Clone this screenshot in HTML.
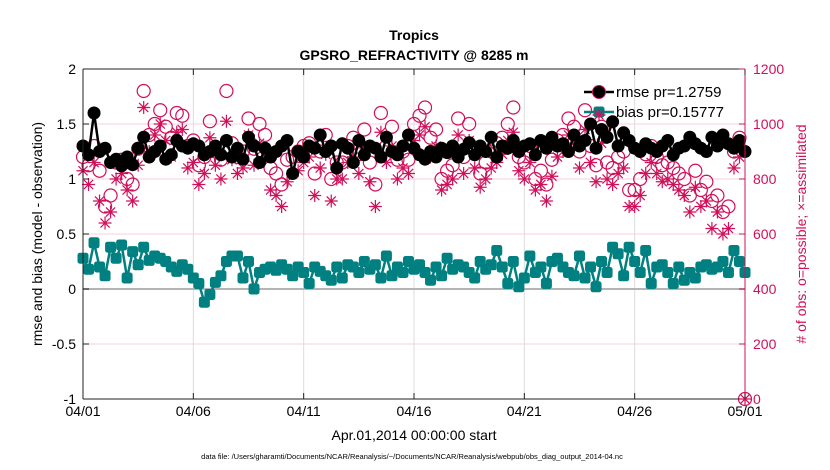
<!DOCTYPE html>
<html><head><meta charset="utf-8">
<style>
body{margin:0;background:#fff;font-family:"Liberation Sans",sans-serif;}
svg{display:block}
text{font-family:"Liberation Sans",sans-serif}
</style></head>
<body>
<svg id="chart" width="830" height="470">
<text x="414" y="40" text-anchor="middle" font-size="14" font-weight="bold">Tropics</text>
<text x="414" y="60" text-anchor="middle" font-size="14" font-weight="bold">GPSRO_REFRACTIVITY @ 8285 m</text>
<text transform="translate(42,234) rotate(-90)" text-anchor="middle" font-size="14">rmse and bias (model - observation)</text>
<text transform="translate(806,234) rotate(-90)" text-anchor="middle" font-size="14" fill="#d0105a"># of obs: o=possible; ×=assimilated</text>
<text x="414" y="440" text-anchor="middle" font-size="14">Apr.01,2014 00:00:00 start</text>
<text x="412" y="459" text-anchor="middle" font-size="7.5">data file: /Users/gharamti/Documents/NCAR/Reanalysis/~/Documents/NCAR/Reanalysis/webpub/obs_diag_output_2014-04.nc</text>
<g id="grid"></g><g id="marks"></g><g id="axes"></g><g id="legend"></g>
</svg>
<script>
const xTicks=["04/01","04/06","04/11","04/16","04/21","04/26","05/01"];
const yTicks=[-1,-0.5,0,0.5,1,1.5,2];
const y2Ticks=[0,200,400,600,800,1000,1200];
const rmse=[1.30,1.22,1.60,1.25,1.28,1.15,1.18,1.12,1.20,1.13,1.28,1.38,1.20,1.25,1.30,1.18,1.22,1.35,1.30,1.28,
1.32,1.30,1.22,1.25,1.30,1.22,1.35,1.20,1.28,1.18,1.38,1.30,1.15,1.28,1.20,1.25,1.30,1.35,1.05,1.25,
1.20,1.30,1.28,1.40,1.25,1.30,1.10,1.32,1.28,1.15,1.35,1.22,1.30,1.28,1.20,1.38,1.25,1.22,1.30,1.40,
1.28,1.22,1.18,1.25,1.20,1.28,1.24,1.30,1.20,1.27,1.33,1.22,1.30,1.25,1.38,1.20,1.30,1.28,1.35,1.25,
1.30,1.32,1.22,1.35,1.28,1.38,1.30,1.32,1.25,1.40,1.30,1.35,1.50,1.28,1.45,1.38,1.52,1.30,1.42,1.35,
1.28,1.25,1.32,1.28,1.25,1.30,1.35,1.22,1.28,1.30,1.38,1.32,1.28,1.25,1.38,1.30,1.40,1.32,1.28,1.35,1.25];
const bias=[0.28,0.18,0.42,0.20,0.12,0.38,0.28,0.40,0.10,0.34,0.22,0.38,0.26,0.30,0.28,0.25,0.20,0.16,0.22,0.18,
0.10,0.05,-0.12,-0.05,0.06,0.12,0.25,0.30,0.30,0.10,0.25,0.00,0.15,0.18,0.20,0.17,0.22,0.18,0.12,0.20,
0.15,0.05,0.20,0.16,0.12,0.08,0.20,0.10,0.22,0.20,0.15,0.25,0.18,0.22,0.10,0.30,0.12,0.20,0.15,0.25,
0.18,0.22,0.15,0.08,0.20,0.12,0.28,0.18,0.22,0.20,0.15,0.10,0.25,0.18,0.22,0.35,0.20,0.05,0.25,0.02,
0.10,0.30,0.15,0.20,0.05,0.25,0.28,0.20,0.15,0.12,0.30,0.10,0.20,0.02,0.25,0.15,0.38,0.32,0.12,0.38,
0.25,0.15,0.35,0.05,0.20,0.22,0.15,0.05,0.20,0.08,0.15,0.10,0.20,0.22,0.18,0.20,0.25,0.15,0.35,0.25,0.15];
const possible=[880,850,920,830,700,740,860,870,800,780,910,1120,960,1000,1050,990,950,1040,1030,920,
940,850,880,1010,900,870,1120,930,880,900,1020,910,1000,960,840,820,780,870,880,900,
920,930,820,900,960,800,860,860,920,950,890,980,860,780,1040,920,990,870,900,870,
1000,1030,1060,950,980,800,830,850,1020,880,1000,900,820,860,900,930,950,1000,1060,880,
860,920,800,830,780,870,940,960,1020,990,900,1050,920,850,990,860,840,880,900,760,
760,800,890,920,880,850,860,840,820,800,740,830,760,790,720,740,680,700,900,950,0];
const assimilated=[830,780,860,720,640,680,800,820,760,720,850,1060,900,960,1000,940,880,970,980,840,
860,780,820,950,850,800,1010,870,820,840,960,850,930,880,760,740,700,790,820,830,
860,880,740,840,890,720,800,800,860,880,820,920,790,700,970,860,920,800,840,820,
940,960,990,880,920,760,780,800,960,820,940,840,770,800,840,860,890,940,970,830,
800,860,760,780,720,810,880,900,960,930,840,980,860,790,930,800,780,820,840,700,
700,740,820,860,820,790,800,780,760,740,680,770,700,720,620,680,600,620,840,880,0];

const X0=83,X1=745,YT=69,YB=399,NS="http://www.w3.org/2000/svg";
const xs=i=>X0+(X1-X0)*i/(rmse.length-1);
const xt=k=>X0+(X1-X0)*k/(xTicks.length-1);
const yl=v=>YB-(v+1)/3*(YB-YT);
const yr=v=>YB-v/1200*(YB-YT);
function mk(tag,parent,attrs){const e=document.createElementNS(NS,tag);for(const k in attrs)e.setAttribute(k,attrs[k]);parent.appendChild(e);return e;}
const grid=document.getElementById('grid'),marks=document.getElementById('marks'),axes=document.getElementById('axes'),leg=document.getElementById('legend');
mk('rect',grid,{x:X0,y:YT,width:X1-X0,height:YB-YT,fill:'#fff'});
xTicks.forEach((t,k)=>{const g=mk('line',grid,{x1:xt(k),x2:xt(k),y1:YT,y2:YB,stroke:'#dcdcdc','stroke-width':1});

});
y2Ticks.forEach(t=>{const g=mk('line',grid,{x1:X0,x2:X1,y1:yr(t),y2:yr(t),stroke:'#f5d0dc','stroke-width':1});

});
const zl=mk('line',grid,{x1:X0,x2:X1,y1:yl(0),y2:yl(0),stroke:'#b4b4b4','stroke-width':2});



function star(p,x,y,r){let d='';for(let a=0;a<4;a++){const t=a*Math.PI/4;d+=`M${x-r*Math.cos(t)},${y-r*Math.sin(t)}L${x+r*Math.cos(t)},${y+r*Math.sin(t)}`;}
return mk('path',p,{d:d,stroke:'#d0105a','stroke-width':1.2,fill:'none'});}
possible.forEach((v,i)=>{const c=mk('circle',marks,{cx:xs(i),cy:yr(v),r:6.5,fill:'none',stroke:'#d0105a','stroke-width':1.2});

});
assimilated.forEach((v,i)=>{const s=star(marks,xs(i),yr(v),6.5);

});
const rl=mk('polyline',marks,{points:rmse.map((v,i)=>xs(i)+','+yl(v)).join(' '),fill:'none',stroke:'#000','stroke-width':2.5});


rmse.forEach((v,i)=>{const c=mk('circle',marks,{cx:xs(i),cy:yl(v),r:6.5,fill:'#000'});

});
const bl=mk('polyline',marks,{points:bias.map((v,i)=>xs(i)+','+yl(v)).join(' '),fill:'none',stroke:'#008080','stroke-width':2.5});


bias.forEach((v,i)=>{const r=mk('rect',marks,{x:xs(i)-5.5,y:yl(v)-5.5,width:11,height:11,rx:2.5,fill:'#008080'});

});
mk('line',axes,{x1:X0,x2:X1,y1:YT,y2:YT,stroke:'#222','stroke-width':1});
mk('line',axes,{x1:X0,x2:X1,y1:YB,y2:YB,stroke:'#222','stroke-width':1});
mk('line',axes,{x1:X0,x2:X0,y1:YT,y2:YB,stroke:'#222','stroke-width':1});
mk('line',axes,{x1:X1,x2:X1,y1:YT,y2:YB,stroke:'#d0105a','stroke-width':1});
xTicks.forEach((t,k)=>{mk('line',axes,{x1:xt(k),x2:xt(k),y1:YB,y2:YB-6,stroke:'#222'});mk('line',axes,{x1:xt(k),x2:xt(k),y1:YT,y2:YT+6,stroke:'#222'});
const tx=mk('text',axes,{x:xt(k),y:YB+17,'text-anchor':'middle','font-size':14});tx.textContent=t;

});
yTicks.forEach(t=>{mk('line',axes,{x1:X0,x2:X0+6,y1:yl(t),y2:yl(t),stroke:'#222'});
const tx=mk('text',axes,{x:X0-7,y:yl(t)+5,'text-anchor':'end','font-size':14});tx.textContent=String(t);

});
y2Ticks.forEach(t=>{mk('line',axes,{x1:X1,x2:X1-6,y1:yr(t),y2:yr(t),stroke:'#d0105a'});
const tx=mk('text',axes,{x:X1+8,y:yr(t)+5,'font-size':14,fill:'#d0105a'});tx.textContent=String(t);

});
const e1=mk('g',leg,{});


mk('line',e1,{x1:584,x2:614,y1:92,y2:92,stroke:'#000','stroke-width':2.5});
mk('circle',e1,{cx:599,cy:92,r:6.5,fill:'#000'});
mk('circle',e1,{cx:599,cy:92,r:6.5,fill:'none',stroke:'#d0105a'});
const l1=mk('text',e1,{x:616,y:97,'font-size':15});l1.textContent='rmse pr=1.2759';
const e2=mk('g',leg,{});


mk('line',e2,{x1:584,x2:614,y1:112,y2:112,stroke:'#008080','stroke-width':2.5});
mk('rect',e2,{x:593.5,y:106.5,width:11,height:11,rx:2.5,fill:'#008080'});
star(e2,599,115,6.5);
const l2=mk('text',e2,{x:616,y:117,'font-size':15});l2.textContent='bias pr=0.15777';
</script>
</body></html>
